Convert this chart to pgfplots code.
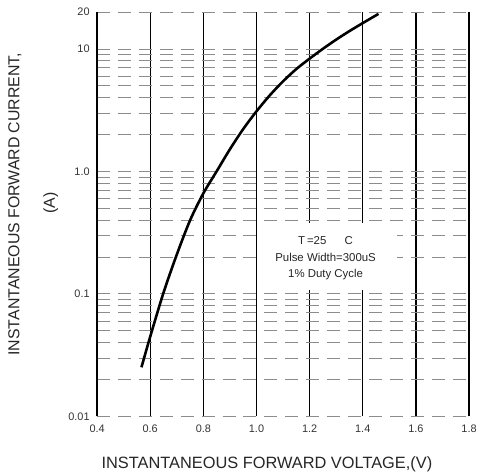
\documentclass[border=0pt]{standalone}
\usepackage{pgfplots}
\pgfplotsset{compat=1.18}
\usepackage{fontspec}
\setmainfont{Liberation Sans}
\begin{document}
\begin{tikzpicture}
\begin{axis}[
  name=ax,
  scale only axis,
  width=373.5bp, height=406bp,
  ymode=log,
  xmin=0.4, xmax=1.8,
  ymin=0.01, ymax=20,
  xtick={0.4,0.6,0.8,1.0,1.2,1.4,1.6,1.8},
  xticklabels={0.4,0.6,0.8,1.0,1.2,1.4,1.6,1.8},
  ytick={0.01,0.1,1,10,20},
  yticklabels={0.01,0.1,1.0,10,20},
  minor ytick={0.02,0.03,0.04,0.05,0.06,0.07,0.08,0.09,0.2,0.3,0.4,0.5,0.6,0.7,0.8,0.9,2,3,4,5,6,7,8,9},
  xmajorgrids, ymajorgrids, yminorgrids,
  major x grid style={black, line width=1.3bp, solid},
  major y grid style={black!45, line width=0.6bp, dash pattern=on 13bp off 8bp},
  minor y grid style={black!45, line width=0.6bp, dash pattern=on 13bp off 8bp},
  axis line style={draw=none},
  major tick length=0, minor tick length=0,
  tick style={draw=none},
  /pgf/number format/assume math mode=true,
  tick label style={font=\fontsize{11}{13}\selectfont, text=black!80},
  xticklabel style={yshift=-5bp},
  yticklabel style={xshift=-4bp},
  clip=false,
]
\fill[white] (axis cs:1.01,0.108) rectangle (axis cs:1.53,0.38);
\addplot[black, line width=2.6bp, smooth, tension=0.5] coordinates {
  (0.567,0.0251) (0.60,0.0447) (0.65,0.102) (0.70,0.209) (0.75,0.398)
  (0.80,0.661) (0.85,1.00) (0.90,1.514) (0.95,2.213) (1.00,3.09)
  (1.05,4.17) (1.10,5.43) (1.15,6.84) (1.20,8.32) (1.25,10.0)
  (1.30,11.89) (1.35,13.96) (1.40,16.22) (1.459,19.28)
};
\node[font=\fontsize{11.5}{16.5}\selectfont, align=center, text=black!85] at (axis cs:1.26,0.194)
  {T\,=25\hspace{1.6em}C\\Pulse Width=300uS\\1\% Duty Cycle};
\end{axis}
\draw[black, line width=1.5bp] ([xshift=0.4bp]ax.south west) -- ([xshift=0.4bp]ax.north west);
\node[rotate=90, font=\fontsize{16}{19}\selectfont, text=black!85] at ([shift={(-82.5bp,213bp)}]ax.south west) {INSTANTANEOUS FORWARD CURRENT,};
\node[rotate=90, font=\fontsize{16}{19}\selectfont, text=black!85] at ([shift={(-46.5bp,214bp)}]ax.south west) {(A)};
\node[font=\fontsize{16.5}{19}\selectfont, text=black!85] at ([shift={(170.5bp,-48bp)}]ax.south west) {INSTANTANEOUS FORWARD VOLTAGE,(V)};
\pgfresetboundingbox
\path[use as bounding box] ([shift={(-97.5bp,-59bp)}]ax.south west) rectangle ([shift={(381.5bp,418bp)}]ax.south west);
\end{tikzpicture}
\end{document}
